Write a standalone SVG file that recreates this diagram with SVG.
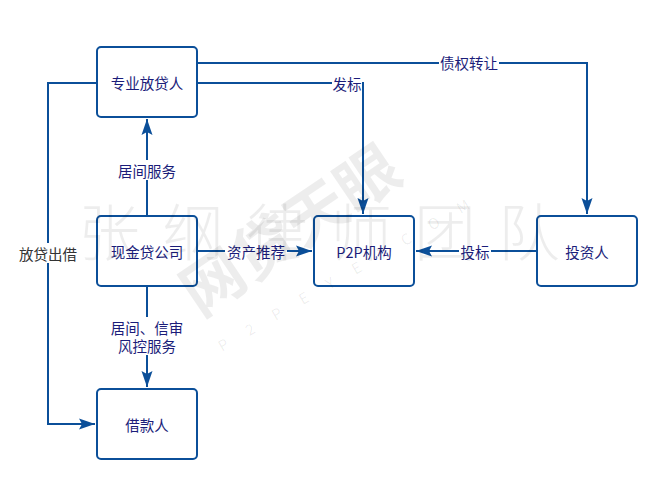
<svg xmlns="http://www.w3.org/2000/svg" width="669" height="491" viewBox="0 0 669 491">
<style>
.node rect{fill:#fff;stroke:#0b4f99;stroke-width:2}
.node text{font-family:"Noto Sans CJK SC","Liberation Sans",sans-serif;font-size:14.5px;fill:#1b1d7a;text-anchor:middle;dominant-baseline:central}
.edge path{fill:none;stroke:#0b4f99;stroke-width:2}
.lbl{font-family:"Noto Sans CJK SC","Liberation Sans",sans-serif;font-size:14.5px;fill:#1b1d7a;text-anchor:middle;dominant-baseline:central}
.lblbg{fill:#fff;stroke:none}
.wm{font-family:"Noto Sans CJK SC",sans-serif;fill:#000;fill-opacity:0.07}
</style>
<defs>
<marker id="ah" markerUnits="userSpaceOnUse" markerWidth="16" markerHeight="12" refX="16" refY="6" orient="auto">
<path d="M0,0.5 L16,6 L0,11.5 L3,6 z" fill="#0b4f99"/>
</marker>
</defs>
<rect width="669" height="491" fill="#fff"/>
<g id="connectors" class="edge">
<path d="M147,216 V119" marker-end="url(#ah)"/>
<path d="M147,286 V387" marker-end="url(#ah)"/>
<path d="M197,251 H312" marker-end="url(#ah)"/>
<path d="M537,251 H416" marker-end="url(#ah)"/>
<path d="M197,83 H363 V214" marker-end="url(#ah)"/>
<path d="M197,63 H587 V214" marker-end="url(#ah)"/>
<path d="M97,83 H48 V424 H95" marker-end="url(#ah)"/>
<rect class="lblbg" x="115" y="160" width="64" height="20"/>
<text class="lbl" x="147" y="170">居间服务</text>
<rect class="lblbg" x="108" y="317" width="78" height="38"/>
<text class="lbl" x="147" y="327">居间、信审</text>
<text class="lbl" x="147" y="345">风控服务</text>
<rect class="lblbg" x="225" y="241" width="62" height="20"/>
<text class="lbl" x="256" y="251">资产推荐</text>
<rect class="lblbg" x="459" y="241" width="32" height="20"/>
<text class="lbl" x="475" y="251">投标</text>
<rect class="lblbg" x="332" y="73" width="30" height="20"/>
<text class="lbl" x="347" y="83">发标</text>
<rect class="lblbg" x="439" y="53" width="60" height="20"/>
<text class="lbl" x="469" y="62">债权转让</text>
<rect class="lblbg" x="17" y="243" width="62" height="20"/>
<text class="lbl" x="48" y="253" style="fill:#333">放贷出借</text>
</g>
<g id="n-lender" class="node"><rect x="97" y="47" width="100" height="70" rx="4"/><text x="147" y="82">专业放贷人</text></g>
<g id="n-cashloan" class="node"><rect x="97" y="216" width="100" height="70" rx="4"/><text x="147" y="251">现金贷公司</text></g>
<g id="n-p2p" class="node"><rect x="314" y="216" width="100" height="70" rx="4"/><text x="364" y="251">P2P机构</text></g>
<g id="n-investor" class="node"><rect x="537" y="216" width="100" height="70" rx="4"/><text x="587" y="251">投资人</text></g>
<g id="n-borrower" class="node"><rect x="97" y="389" width="100" height="70" rx="4"/><text x="147" y="424">借款人</text></g>
<g id="watermark">
<text class="wm" x="78" y="256" font-size="62" font-weight="300" letter-spacing="22">张纲律师团队</text>
<text class="wm" transform="translate(200,318) rotate(-34)" font-size="62" font-weight="700">网贷天眼</text>
<text class="wm" transform="translate(222,352) rotate(-30)" font-size="15" letter-spacing="22" fill-opacity="0.12">P2PEYE.COM</text>
</g>
</svg>
